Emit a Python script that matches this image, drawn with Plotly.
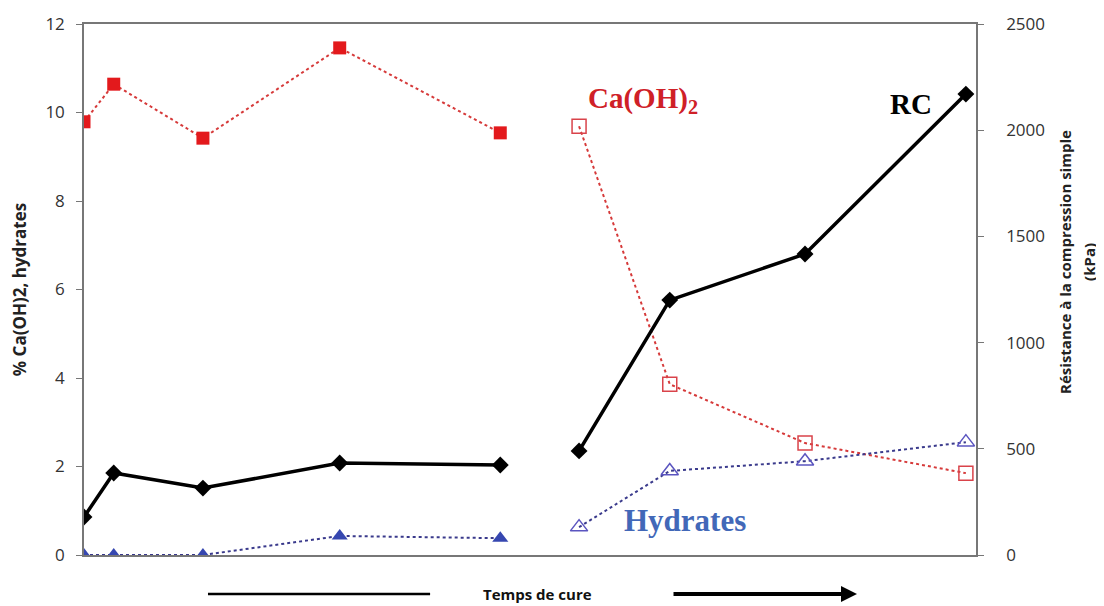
import plotly.graph_objects as go

# x positions (arbitrary curing-time scale)
x_early = [0.0, 1.0, 4.0, 8.6, 14.0]
x_late = [16.65, 19.7, 24.25, 29.66]

caoh2_early = [9.79, 10.64, 9.42, 11.46, 9.54]
hydr_early = [0.0, 0.0, 0.0, 0.43, 0.38]
rc_early = [179, 386, 315, 433, 424]

caoh2_late = [9.69, 3.86, 2.53, 1.85]
hydr_late = [0.63, 1.90, 2.12, 2.55]
rc_late = [490, 1200, 1417, 2170]

left_ticks = [0, 2, 4, 6, 8, 10, 12]
right_ticks = [0, 500, 1000, 1500, 2000, 2500]

RED = "#e3191c"
RED_LINE = "#d63a3a"
BLUE = "#3647b0"
BLUE_OPEN = "#5b55c0"
BLUE_LINE = "#3a3a8c"

fig = go.Figure()

# early group (filled markers)
fig.add_trace(go.Scatter(x=x_early, y=caoh2_early, mode="lines+markers",
    line=dict(color=RED_LINE, width=2, dash="dot"),
    marker=dict(symbol="square", size=13, color=RED), yaxis="y", showlegend=False))
fig.add_trace(go.Scatter(x=x_early, y=hydr_early, mode="lines+markers",
    line=dict(color=BLUE_LINE, width=2, dash="dot"),
    marker=dict(symbol="triangle-up", size=14, color=BLUE), yaxis="y", showlegend=False))
fig.add_trace(go.Scatter(x=x_early, y=rc_early, mode="lines+markers",
    line=dict(color="black", width=3.5),
    marker=dict(symbol="diamond", size=13, color="black"), yaxis="y2", showlegend=False))

# late group (open markers)
fig.add_trace(go.Scatter(x=x_late, y=caoh2_late, mode="lines+markers",
    line=dict(color=RED_LINE, width=2, dash="dot"),
    marker=dict(symbol="square-open", size=14, color="#d9434a", line=dict(width=1.5)),
    yaxis="y", showlegend=False))
fig.add_trace(go.Scatter(x=x_late, y=hydr_late, mode="lines+markers",
    line=dict(color=BLUE_LINE, width=2, dash="dot"),
    marker=dict(symbol="triangle-up-open", size=15, color=BLUE_OPEN, line=dict(width=1.5)),
    yaxis="y", showlegend=False))
fig.add_trace(go.Scatter(x=x_late, y=rc_late, mode="lines+markers",
    line=dict(color="black", width=3.5),
    marker=dict(symbol="diamond", size=13, color="black"), yaxis="y2", showlegend=False))

tickfont = dict(family="Open Sans, sans-serif", size=17, color="#333333")
titlefont = dict(family="Open Sans, sans-serif", size=15, color="#222222", weight="bold")

# the page has an 8px body margin, so the figure is sized/offset to compensate
fig.update_layout(
    width=1096, height=598,
    margin=dict(l=76, r=128, t=16, b=51, autoexpand=False),
    paper_bgcolor="white", plot_bgcolor="white",
    xaxis=dict(range=[0, 30], showticklabels=False, ticks="", showgrid=False,
               zeroline=False, showline=True, linecolor="#777777", linewidth=2, mirror=True),
    yaxis=dict(range=[0, 12], tickvals=left_ticks, ticks="outside", ticklen=6,
               tickcolor="#777777", showgrid=False, zeroline=False, showline=True,
               linecolor="#777777", linewidth=1.5, tickfont=tickfont, ticklabelstandoff=8,
               title=dict(text="% Ca(OH)2, hydrates", standoff=18,
                          font=dict(family="Open Sans, sans-serif", size=17, color="#222222", weight="bold"))),
    yaxis2=dict(range=[0, 2500], tickvals=right_ticks, overlaying="y", side="right",
                ticks="outside", ticklen=6, tickcolor="#777777", showgrid=False,
                zeroline=False, showline=True, linecolor="#777777", linewidth=1.5,
                tickfont=tickfont, ticklabelstandoff=19),
    yaxis3=dict(range=[0, 2500], tickvals=right_ticks, overlaying="y", side="right",
                ticks="inside", ticklen=7, tickcolor="#777777", showticklabels=False,
                showgrid=False, zeroline=False, showline=False),
)

# right axis title (two centred lines)
fig.add_annotation(text="Résistance à la compression simple", x=1.0998, y=0.552,
                   xref="paper", yref="paper", xanchor="center", yanchor="middle",
                   textangle=-90, showarrow=False, font=titlefont)
fig.add_annotation(text="(kPa)", x=1.1267, y=0.552,
                   xref="paper", yref="paper", xanchor="center", yanchor="middle",
                   textangle=-90, showarrow=False, font=titlefont)

# annotations: series labels
serif = "Liberation Serif, Times New Roman, serif"
fig.add_annotation(text="Ca(OH)<sub>2</sub>", x=18.8, y=10.28, xref="x", yref="y",
                   showarrow=False, font=dict(family=serif, size=29, color="#cf2027", weight="bold"))
fig.add_annotation(text="RC", x=27.8, y=2123, xref="x", yref="y2",
                   showarrow=False, font=dict(family=serif, size=29, color="black", weight="bold"))
fig.add_annotation(text="Hydrates", x=20.2, y=0.77, xref="x", yref="y",
                   showarrow=False, font=dict(family=serif, size=31, color="#4268b8", weight="bold"))

# axis label with arrow
fig.add_annotation(text="<b>Temps de cure</b>", x=0.508, y=-0.0734, xref="paper", yref="paper",
                   xanchor="center", yanchor="middle",
                   showarrow=False, font=dict(family="Open Sans, sans-serif", size=15, color="#111111"))
fig.add_shape(type="line", xref="paper", yref="paper", x0=0.139, x1=0.388, y0=-0.0734, y1=-0.0734,
              line=dict(color="black", width=2.5))
fig.add_annotation(x=0.8666, y=-0.0734, xref="paper", yref="paper", ax=-185, ay=0,
                   axref="pixel", ayref="pixel", text="", showarrow=True,
                   arrowhead=2, arrowsize=0.8, arrowwidth=4, arrowcolor="black")

fig.write_html("out.html")
